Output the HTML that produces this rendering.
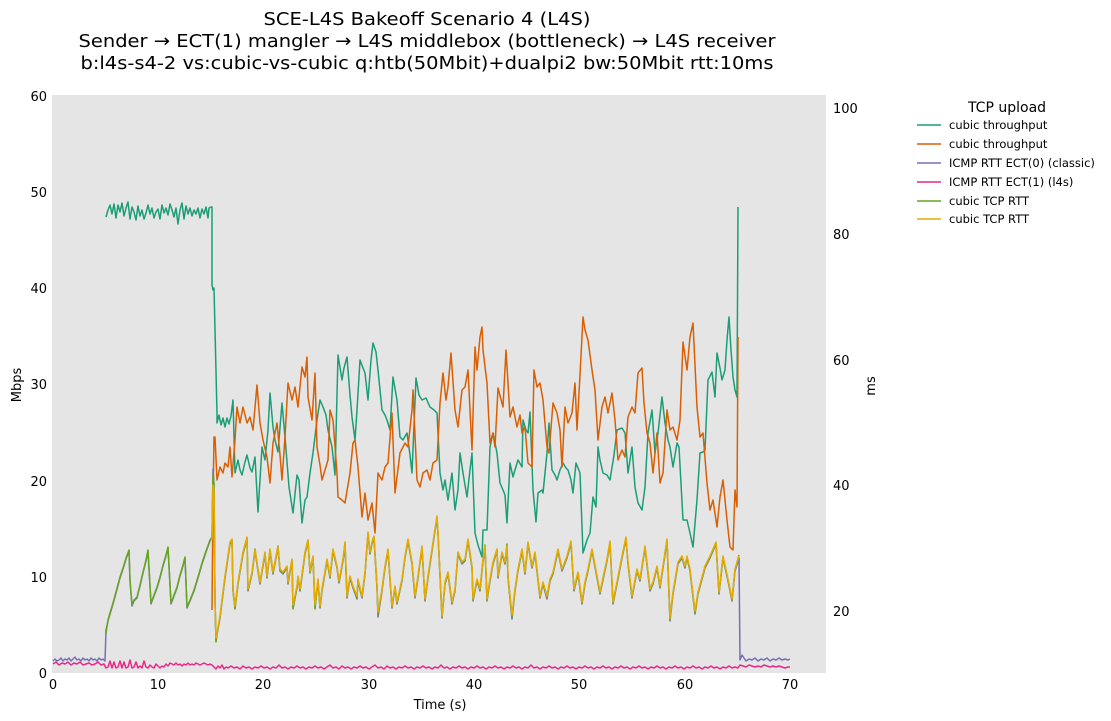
<!DOCTYPE html>
<html><head><meta charset="utf-8"><style>
html,body{margin:0;padding:0;background:#fff;}
svg{display:block;font-family:"DejaVu Sans","Liberation Sans",sans-serif;}
.t{font-size:13px;fill:#000;}
.l{font-size:11.5px;fill:#000;}
polyline{fill:none;stroke-width:1.5;stroke-linejoin:round;}
</style></head><body>
<svg width="1111" height="721" viewBox="0 0 1111 721" xmlns="http://www.w3.org/2000/svg">
<rect x="0" y="0" width="1111" height="721" fill="#fff"/>
<rect x="52" y="95" width="774" height="578" fill="#e5e5e5"/>

<!-- title -->
<text x="427" y="25" font-size="18" text-anchor="middle" textLength="327" lengthAdjust="spacingAndGlyphs">SCE-L4S Bakeoff Scenario 4 (L4S)</text>
<text x="427" y="47" font-size="18" text-anchor="middle" textLength="697" lengthAdjust="spacingAndGlyphs">Sender → ECT(1) mangler → L4S middlebox (bottleneck) → L4S receiver</text>
<text x="427" y="69" font-size="18" text-anchor="middle" textLength="693" lengthAdjust="spacingAndGlyphs">b:l4s-s4-2 vs:cubic-vs-cubic q:htb(50Mbit)+dualpi2 bw:50Mbit rtt:10ms</text>

<!-- left ticks -->
<g class="t" text-anchor="end">
<text x="47" y="101">60</text>
<text x="47" y="197">50</text>
<text x="47" y="293">40</text>
<text x="47" y="389">30</text>
<text x="47" y="486">20</text>
<text x="47" y="582">10</text>
<text x="47" y="678">0</text>
</g>
<!-- right ticks -->
<g class="t" text-anchor="start">
<text x="833" y="113">100</text>
<text x="833" y="239">80</text>
<text x="833" y="365">60</text>
<text x="833" y="490">40</text>
<text x="833" y="616">20</text>
</g>
<!-- x ticks -->
<g class="t" text-anchor="middle">
<text x="53" y="689">0</text>
<text x="158" y="689">10</text>
<text x="263" y="689">20</text>
<text x="369" y="689">30</text>
<text x="474" y="689">40</text>
<text x="579" y="689">50</text>
<text x="685" y="689">60</text>
<text x="790" y="689">70</text>
</g>
<text class="t" x="440" y="709" text-anchor="middle">Time (s)</text>
<text class="t" transform="translate(21,385) rotate(-90)" text-anchor="middle">Mbps</text>
<text class="t" transform="translate(875,386) rotate(-90)" text-anchor="middle">ms</text>

<!-- green throughput -->
<polyline stroke="#1b9e77" points="106,217 108,210 110,205 112,214 114,204 116,218 118,205 120,212 122,203 124,216 126,208 128,202 130,219 132,207 134,212 136,220 138,206 140,216 142,210 144,219 146,213 148,205 150,214 152,208 154,218 156,212 158,209 160,219 162,205 164,213 166,208 168,215 170,204 172,210 174,217 176,208 178,224 180,210 182,203 184,219 186,206 188,214 190,208 192,216 194,210 196,214 198,208 200,218 202,209 204,214 206,207 208,218 209,208 211,207 212,207 212,285 213,290 214,288 217,413 217,423 219,415 221,425 223,418 225,427 227,418 229,424 231,416 233,400 235,473 238,460 240,470 242,475 245,462 247,455 250,468 252,472 255,457 258,512 262,447 265,460 268,430 270,393 273,427 275,440 278,452 282,403 285,437 289,487 293,513 297,475 299,480 302,523 305,500 307,497 310,473 313,453 317,420 320,400 323,407 326,415 328,430 332,447 335,475 338,355 342,380 344,368 347,357 350,395 352,417 355,440 357,410 360,360 363,368 365,373 368,400 371,360 373,343 376,352 378,370 382,410 385,415 387,420 390,430 393,377 397,400 400,437 403,440 407,433 410,455 412,473 416,378 419,395 422,400 426,398 430,407 434,410 437,413 440,473 443,490 445,480 448,500 452,473 455,510 458,490 460,453 463,473 467,497 470,470 472,453 475,533 478,545 482,557 483,530 487,530 490,447 493,433 497,453 500,483 503,490 505,495 507,523 510,463 513,477 515,470 518,460 522,467 523,420 526,430 528,433 530,412 533,490 536,522 538,493 542,490 543,493 547,453 549,423 552,470 555,475 557,480 560,470 563,463 566,468 568,470 571,480 573,493 576,463 580,473 583,553 587,540 590,533 593,497 596,507 598,447 600,460 603,473 607,475 610,480 614,455 617,430 622,428 625,433 628,473 632,447 635,487 638,503 642,510 645,487 648,433 652,410 655,453 658,433 662,397 665,423 668,440 670,447 673,467 677,443 679,447 683,520 687,520 690,533 693,547 697,500 700,453 703,452 705,450 708,380 712,372 715,397 717,353 720,368 722,380 725,370 727,340 729,317 731,350 733,377 735,390 737,397 738,207"/>

<!-- orange throughput -->
<polyline stroke="#d95f02" points="212,610 213,500 214,437 215,437 217,480 220,467 223,473 225,463 228,467 230,447 232,477 235,440 237,407 240,423 243,407 247,423 250,417 253,430 257,385 260,423 263,440 267,457 270,483 273,443 277,423 280,455 282,480 285,437 288,383 292,400 295,387 298,407 302,367 305,377 307,357 308,397 312,420 315,373 317,447 320,465 322,480 325,470 328,460 330,410 333,420 337,473 338,497 342,500 345,503 350,473 353,443 355,440 358,467 362,517 365,493 368,520 372,503 375,533 378,473 382,480 385,467 388,463 392,413 395,493 400,453 405,443 408,447 412,410 413,390 417,480 420,487 423,473 427,470 430,480 433,463 437,460 440,403 443,373 446,400 448,387 451,353 455,410 458,427 462,390 465,387 468,370 472,450 475,347 477,370 480,337 482,327 483,350 487,383 490,443 493,433 495,447 498,388 503,407 506,350 508,383 510,417 513,407 517,427 520,415 522,433 525,427 528,463 532,467 534,370 537,387 540,383 543,400 547,447 549,453 553,403 557,413 560,430 562,467 565,407 568,423 572,413 575,383 577,430 580,375 583,317 585,330 588,340 592,370 595,390 598,440 602,407 605,397 608,413 612,393 615,420 618,460 622,450 625,457 628,417 632,407 635,413 638,373 642,368 644,403 647,433 650,443 653,473 657,433 660,483 663,473 667,410 670,430 673,427 677,440 680,420 683,342 687,370 690,337 693,323 697,407 700,437 703,433 707,483 710,510 713,500 717,527 720,497 723,480 727,520 730,547 733,550 735,490 737,507 738,337"/>

<!-- ICMP classic (purple) -->
<polyline stroke="#7570b3" points="53,661 55,659 57,661 59,660 61,658 63,661 65,659 67,660 69,658 71,661 73,659 75,657 77,660 79,659 81,661 83,658 85,660 87,659 89,661 91,658 93,660 95,659 97,661 99,658 101,660 103,659 105,661 106,630 108,621 110,614 113,604 116,593 120,578 123,569 126,559 129,551 130,581 132,606 134,601 137,598 140,586 143,573 146,561 148,551 151,604 154,596 157,588 160,578 163,566 166,556 168,548 171,604 174,596 177,588 180,576 183,566 185,558 187,608 190,601 194,591 198,578 202,564 206,552 210,541 212,537 213,469 214,484 215,601 216,641 217,634 220,618 225,578 230,544 232,541 233,591 235,608 238,584 243,554 247,539 248,591 252,574 255,551 258,571 260,584 265,554 267,578 270,551 273,574 278,548 280,571 283,574 287,568 288,584 292,561 293,608 297,588 298,578 300,591 305,554 308,541 310,573 313,558 315,608 318,581 320,608 322,591 327,561 330,578 333,551 337,568 339,583 343,561 345,544 347,598 350,578 353,588 357,599 358,581 362,598 365,574 368,534 370,554 372,544 374,538 377,588 378,617 382,591 385,568 388,551 392,608 395,588 397,604 402,581 405,558 408,541 412,564 415,598 418,578 422,548 425,601 428,578 432,551 437,518 438,534 442,618 445,584 448,574 452,604 455,591 458,554 462,564 465,561 468,541 472,568 473,601 477,581 480,591 483,561 485,548 487,601 490,581 493,564 497,551 498,578 502,554 505,564 507,548 508,578 512,619 515,591 518,571 522,551 525,574 528,544 532,568 535,554 540,598 543,584 547,599 550,581 553,574 558,551 562,571 567,558 571,543 574,591 578,574 582,604 585,584 588,571 592,551 597,578 600,594 607,561 610,543 613,604 617,584 622,558 626,539 628,564 632,598 637,571 640,581 645,548 650,591 653,584 657,568 660,588 667,541 670,621 673,594 678,564 682,558 685,568 687,558 690,571 695,614 698,594 705,568 710,558 716,544 719,594 723,558 728,581 732,601 735,571 739,558 740,660 742,655 744,658 746,661 749,659 752,660 755,658 758,661 761,659 764,660 767,658 770,661 773,659 776,660 779,658 782,660 785,659 788,660 790,659"/>

<!-- ICMP l4s (pink) -->
<polyline stroke="#e7298a" points="53,664 56,662 59,665 62,663 65,664 68,662 71,665 74,663 77,664 80,662 83,665 86,664 89,663 92,665 95,664 98,662 101,665 104,664 106,668 108,667 110,661 112,668 114,662 116,668 118,667 120,661 122,668 124,662 126,668 128,667 130,660 132,668 134,667 136,662 138,668 140,666 142,668 144,661 146,667 148,668 150,665 152,667 154,668 156,664 158,666 160,668 162,666 164,667 166,664 168,666 170,663 172,664 174,665 176,663 178,665 180,664 182,666 184,664 186,665 188,663 190,665 192,664 194,665 196,663 198,664 200,665 202,664 204,663 206,664 208,665 210,664 212,665 214,667 216,669 218,666 220,668 222,665 224,669 226,667 228,668 231,666 234,668 237,667 240,669 243,666 246,668 249,667 252,669 255,667 258,668 261,666 264,668 267,667 270,669 273,667 276,668 279,665 282,668 285,667 288,669 291,667 294,668 297,666 300,668 303,667 306,669 309,667 312,668 315,666 318,668 321,667 324,669 327,667 330,665 333,668 336,667 339,669 342,666 345,668 348,667 351,669 354,667 357,668 360,666 363,668 366,667 369,669 372,667 375,665 378,668 381,667 384,669 387,666 390,668 393,667 396,669 399,667 402,668 405,666 408,668 411,667 414,669 417,667 420,668 423,666 426,668 429,667 432,669 435,667 438,668 441,665 444,668 447,667 450,669 453,667 456,668 459,666 462,668 465,667 468,669 471,667 474,668 477,666 480,668 483,667 486,669 489,667 492,668 495,666 498,668 501,667 504,669 507,667 510,668 513,666 516,668 519,667 522,669 525,667 528,668 531,665 534,668 537,667 540,669 543,667 546,668 549,666 552,668 555,667 558,669 561,667 564,668 567,666 570,668 573,667 576,669 579,667 582,668 585,666 588,668 591,667 594,669 597,667 600,668 603,666 606,668 609,667 612,669 615,667 618,668 621,666 624,668 627,667 630,669 633,667 636,668 639,666 642,668 645,667 648,669 651,667 654,668 657,666 660,668 663,667 666,669 669,667 672,668 675,666 678,668 681,667 684,669 687,667 690,668 693,666 696,668 699,667 702,669 705,667 708,668 711,666 714,668 717,667 720,669 723,667 726,668 729,666 732,668 735,667 738,668 740,665 743,666 746,667 749,665 752,666 755,667 758,666 761,667 764,665 767,666 770,667 773,666 776,667 779,666 782,667 785,668 788,667 790,667"/>

<!-- cubic TCP RTT (olive) -->
<polyline stroke="#66a61e" points="106,633 108,620 110,613 113,603 116,592 120,577 123,568 126,558 129,550 130,580 132,605 134,600 137,597 140,585 143,572 146,560 148,550 151,603 154,595 157,587 160,577 163,565 166,555 168,547 171,603 174,595 177,587 180,575 183,565 185,557 187,607 190,600 194,590 198,577 202,563 206,551 210,540 212,537 213,475 214,485 215,600 216,642 217,634 220,617 225,577 230,543 232,540 233,590 235,609 238,583 243,553 247,538 248,590 252,573 255,549 258,570 260,583 265,553 267,577 270,550 273,573 278,546 280,570 283,573 287,567 288,583 292,560 293,609 297,587 298,577 300,590 305,553 308,540 310,572 313,557 315,609 318,580 320,607 322,590 327,560 330,577 333,550 337,567 339,582 343,560 345,543 347,597 350,577 353,587 357,598 358,580 362,597 365,573 368,533 370,553 372,543 374,537 377,587 378,614 382,590 385,567 388,550 392,607 395,587 397,603 402,580 405,557 408,540 412,563 415,597 418,577 422,547 425,600 428,577 432,550 437,517 438,533 442,617 445,583 448,573 452,603 455,590 458,553 462,563 465,560 468,540 472,567 473,600 477,580 480,590 483,560 485,545 487,600 490,580 493,563 497,550 498,577 502,553 505,563 507,544 508,577 512,617 515,590 518,570 522,550 525,573 528,543 532,567 535,553 540,597 543,583 547,597 550,580 553,573 558,550 562,570 567,557 571,542 574,590 578,573 582,603 585,583 588,570 592,550 597,577 600,593 607,560 610,542 613,603 617,583 622,557 626,538 628,563 632,597 637,570 640,580 645,547 650,590 653,583 657,567 660,587 667,540 670,620 673,593 678,563 682,557 685,567 687,557 690,570 695,613 698,593 705,567 710,557 716,543 719,593 723,557 728,580 732,600 735,570 739,555"/>

<!-- cubic TCP RTT (yellow) -->
<polyline stroke="#e6ab02" points="212,540 213,485 214,490 215,600 216,638 217,632 220,616 225,576 230,542 232,539 233,589 235,606 238,582 243,552 247,537 248,589 252,572 255,550 258,569 260,582 265,552 267,576 270,549 273,572 278,547 280,569 283,572 287,566 288,582 292,559 293,605 297,586 298,576 300,589 305,552 308,540 310,571 313,556 315,605 318,579 320,606 322,589 327,559 330,576 333,549 337,566 339,581 343,559 345,542 347,596 350,576 353,586 357,596 358,579 362,596 365,572 368,532 370,552 372,542 374,536 377,586 378,612 382,589 385,566 388,549 392,606 395,586 397,602 402,579 405,556 408,539 412,562 415,596 418,576 422,546 425,599 428,576 432,549 437,516 438,532 442,616 445,582 448,572 452,602 455,589 458,552 462,562 465,559 468,539 472,566 473,599 477,579 480,589 483,559 485,546 487,599 490,579 493,562 497,549 498,576 502,552 505,562 507,546 508,576 512,615 515,589 518,569 522,549 525,572 528,542 532,566 535,552 540,596 543,582 547,596 550,579 553,572 558,549 562,569 567,556 571,541 574,589 578,572 582,602 585,582 588,569 592,549 597,576 600,592 607,559 610,541 613,602 617,582 622,556 626,537 628,562 632,596 637,569 640,579 645,546 650,589 653,582 657,566 660,586 667,539 670,618 673,592 678,562 682,556 685,566 687,556 690,569 695,611 698,592 705,566 710,556 716,542 719,592 723,556 728,579 732,599 735,569 739,556"/>

<!-- legend -->
<text x="1007" y="112" font-size="14" text-anchor="middle">TCP upload</text>
<g stroke-width="1.5">
<line x1="917" y1="125" x2="941" y2="125" stroke="#1b9e77"/>
<line x1="917" y1="144" x2="941" y2="144" stroke="#d95f02"/>
<line x1="917" y1="163" x2="941" y2="163" stroke="#7570b3"/>
<line x1="917" y1="182" x2="941" y2="182" stroke="#e7298a"/>
<line x1="917" y1="201" x2="941" y2="201" stroke="#66a61e"/>
<line x1="917" y1="219" x2="941" y2="219" stroke="#e6ab02"/>
</g>
<g class="l">
<text x="949" y="129">cubic throughput</text>
<text x="949" y="148">cubic throughput</text>
<text x="949" y="167">ICMP RTT ECT(0) (classic)</text>
<text x="949" y="186">ICMP RTT ECT(1) (l4s)</text>
<text x="949" y="205">cubic TCP RTT</text>
<text x="949" y="223">cubic TCP RTT</text>
</g>
</svg>
</body></html>
